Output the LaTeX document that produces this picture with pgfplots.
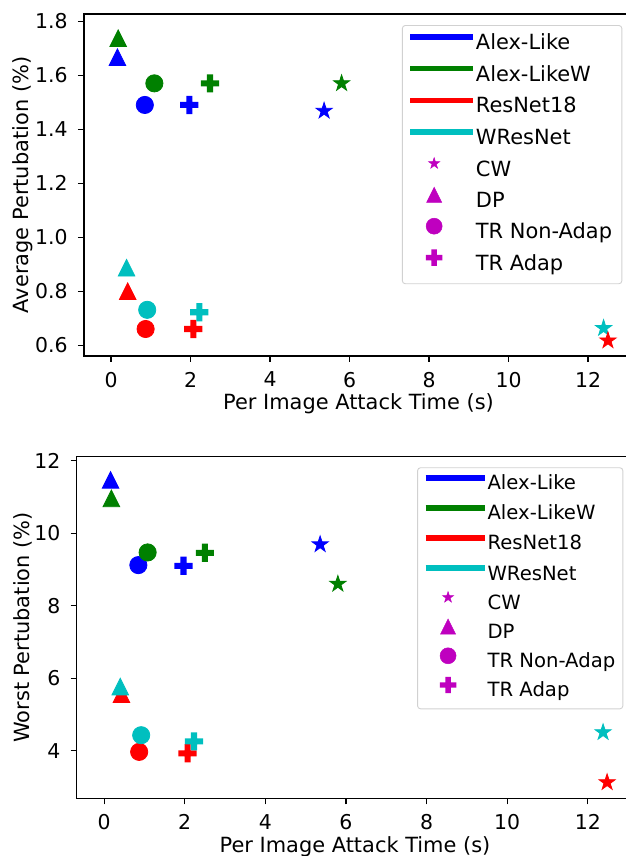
\documentclass[border=0pt]{standalone}
\usepackage{fontspec}
\setmainfont{DejaVu Sans}
\usepackage{pgfplots}
\pgfplotsset{compat=1.18}

\definecolor{mblue}{rgb}{0,0,1}
\definecolor{mgreen}{rgb}{0,0.5,0}
\definecolor{mred}{rgb}{1,0,0}
\definecolor{mcyan}{rgb}{0,0.75,0.75}
\definecolor{mmag}{rgb}{0.75,0,0.75}

\pgfdeclareplotmark{mtri}{%
  \pgfpathmoveto{\pgfqpoint{0pt}{\pgfplotmarksize}}%
  \pgfpathlineto{\pgfqpoint{-\pgfplotmarksize}{-\pgfplotmarksize}}%
  \pgfpathlineto{\pgfqpoint{\pgfplotmarksize}{-\pgfplotmarksize}}%
  \pgfpathclose\pgfusepathqfillstroke}
\pgfdeclareplotmark{mplus}{%
  \pgfpathrectanglecorners{\pgfpoint{-\pgfplotmarksize}{-0.3333\pgfplotmarksize}}{\pgfpoint{\pgfplotmarksize}{0.3333\pgfplotmarksize}}%
  \pgfpathrectanglecorners{\pgfpoint{-0.3333\pgfplotmarksize}{-\pgfplotmarksize}}{\pgfpoint{0.3333\pgfplotmarksize}{\pgfplotmarksize}}%
  \pgfusepathqfill}
\pgfdeclareplotmark{mstar}{%
  \pgfpathmoveto{\pgfpointpolar{90}{\pgfplotmarksize}}%
  \pgfpathlineto{\pgfpointpolar{126}{0.382\pgfplotmarksize}}%
  \pgfpathlineto{\pgfpointpolar{162}{\pgfplotmarksize}}%
  \pgfpathlineto{\pgfpointpolar{198}{0.382\pgfplotmarksize}}%
  \pgfpathlineto{\pgfpointpolar{234}{\pgfplotmarksize}}%
  \pgfpathlineto{\pgfpointpolar{270}{0.382\pgfplotmarksize}}%
  \pgfpathlineto{\pgfpointpolar{306}{\pgfplotmarksize}}%
  \pgfpathlineto{\pgfpointpolar{342}{0.382\pgfplotmarksize}}%
  \pgfpathlineto{\pgfpointpolar{18}{\pgfplotmarksize}}%
  \pgfpathlineto{\pgfpointpolar{54}{0.382\pgfplotmarksize}}%
  \pgfpathclose\pgfusepathqfillstroke}

\pgfplotsset{
  common/.style={
    scale only axis, anchor=south west,
    xmin=-0.68, xmax=13.13,
    xtick={0,2,...,12},
    tick align=outside, tick pos=left,
    major tick length=6bp,
    every tick/.style={black, line width=1.2bp},
    axis line style={black, line width=1.2bp},
    /pgf/number format/assume math mode=true,
    ticklabel style={font=\fontsize{20.5}{24}\selectfont, inner sep=0pt},
    xticklabel style={anchor=north, yshift=-9.5bp},
    yticklabel style={anchor=east, xshift=-10bp},
    label style={font=\fontsize{21}{25}\selectfont},
    xlabel style={at={(axis description cs:0.5,0)}, anchor=base, yshift=-54bp},
    xlabel={Per Image Attack Time (s)},
    legend cell align=left,
    legend style={draw=black!18, line width=0.9bp, rounded corners=3bp, fill=white,
      anchor=north east},
    only marks, line width=0.8bp,
  },
  legTop/.style={
    legend style={at={(axis description cs:0.9805,0.9678)},
      font=\fontsize{21}{25}\selectfont, inner xsep=9.8bp, inner ysep=8.6bp,
      row sep=11.36bp, nodes={inner sep=0pt, text height=15bp, text depth=5bp}},
    legend image code/.code={%
      \path (0bp,7.6bp) -- (58.2bp,7.6bp);
      \draw[overlay, mark repeat=2, mark phase=2, ##1] plot coordinates {(-4.8bp,7.6bp) (19.2bp,7.6bp) (43.2bp,7.6bp)};}
  },
  legBot/.style={
    legend style={at={(axis description cs:0.982,0.969)},
      font=\fontsize{19.7}{23}\selectfont, inner xsep=7.6bp, inner ysep=7.3bp,
      row sep=10.5bp, nodes={inner sep=0pt, text height=14bp, text depth=4.7bp}},
    legend image code/.code={%
      \path (0bp,7.2bp) -- (56.4bp,7.2bp);
      \draw[overlay, mark repeat=2, mark phase=2, ##1] plot coordinates {(-2.6bp,7.2bp) (19.9bp,7.2bp) (42.4bp,7.2bp)};}
  },
  CW/.style={mark=mstar, mark size=8.5bp},
  DP/.style={mark=mtri, mark size=8.3bp},
  TRN/.style={mark=*, mark size=8.6bp},
  TRA/.style={mark=mplus, mark size=9.1bp},
  legmark/.style={mmag, draw=none, line width=0.5bp, mark options={draw=mmag, fill=mmag}},
}

\newcommand{\legendentries}[1]{%
  \addlegendimage{sharp plot, no marks, mblue, line width=#1}\addlegendentry{Alex-Like}
  \addlegendimage{sharp plot, no marks, mgreen, line width=#1}\addlegendentry{Alex-LikeW}
  \addlegendimage{sharp plot, no marks, mred, line width=#1}\addlegendentry{ResNet18}
  \addlegendimage{sharp plot, no marks, mcyan, line width=#1}\addlegendentry{WResNet}
  \addlegendimage{legmark, mark=mstar, mark size=5.8bp}\addlegendentry{CW}
  \addlegendimage{legmark, mark=mtri, mark size=7.6bp}\addlegendentry{DP}
  \addlegendimage{legmark, mark=*, mark size=8bp}\addlegendentry{TR Non-Adap}
  \addlegendimage{legmark, mark=mplus, mark size=8.2bp}\addlegendentry{TR Adap}
}

\begin{document}
\begin{tikzpicture}
\useasboundingbox (0,0) rectangle (626bp,856bp);

% ---------- top axis ----------
\begin{axis}[common, legTop,
  at={(84bp,500bp)}, width=549bp, height=342bp,
  ymin=0.56, ymax=1.827,
  ytick={0.6,0.8,1.0,1.2,1.4,1.6,1.8},
  yticklabel style={/pgf/number format/.cd, fixed, fixed zerofill, precision=1},
  ylabel={Average Pertubation (\%)},
  ylabel style={at={(axis description cs:-0.1111,0.5)}, anchor=center, rotate=0},
]
\legendentries{5.6bp}
% Alex-Like
\addplot[forget plot, mblue, DP]  coordinates {(0.16,1.667)};
\addplot[forget plot, mblue, TRN] coordinates {(0.85,1.490)};
\addplot[forget plot, mblue, TRA] coordinates {(1.97,1.490)};
\addplot[forget plot, mblue, CW]  coordinates {(5.36,1.468)};
% Alex-LikeW
\addplot[forget plot, mgreen, DP]  coordinates {(0.18,1.737)};
\addplot[forget plot, mgreen, TRN] coordinates {(1.09,1.570)};
\addplot[forget plot, mgreen, TRA] coordinates {(2.49,1.570)};
\addplot[forget plot, mgreen, CW]  coordinates {(5.80,1.570)};
% WResNet CW first (red star drawn above)
\addplot[forget plot, mcyan, CW]  coordinates {(12.39,0.663)};
% ResNet18
\addplot[forget plot, mred, DP]  coordinates {(0.42,0.800)};
\addplot[forget plot, mred, TRN] coordinates {(0.87,0.660)};
\addplot[forget plot, mred, TRA] coordinates {(2.07,0.660)};
\addplot[forget plot, mred, CW]  coordinates {(12.50,0.617)};
% WResNet
\addplot[forget plot, mcyan, DP]  coordinates {(0.39,0.887)};
\addplot[forget plot, mcyan, TRN] coordinates {(0.91,0.731)};
\addplot[forget plot, mcyan, TRA] coordinates {(2.22,0.722)};
\end{axis}

% ---------- bottom axis ----------
\begin{axis}[common, legBot,
  at={(76.7bp,57.7bp)}, width=556.6bp, height=341.6bp,
  ymin=2.69, ymax=12.11,
  ytick={4,6,8,10,12},
  ylabel={Worst Pertubation (\%)},
  ylabel style={at={(axis description cs:-0.0965,0.5)}, anchor=center, rotate=0},
]
\legendentries{6bp}
% Alex-Like
\addplot[forget plot, mblue, DP]  coordinates {(0.16,11.47)};
\addplot[forget plot, mblue, TRN] coordinates {(0.85,9.12)};
\addplot[forget plot, mblue, TRA] coordinates {(1.97,9.10)};
\addplot[forget plot, mblue, CW]  coordinates {(5.36,9.69)};
% Alex-LikeW
\addplot[forget plot, mgreen, DP]  coordinates {(0.18,10.96)};
\addplot[forget plot, mgreen, TRN] coordinates {(1.08,9.47)};
\addplot[forget plot, mgreen, TRA] coordinates {(2.50,9.46)};
\addplot[forget plot, mgreen, CW]  coordinates {(5.80,8.60)};
% ResNet18
\addplot[forget plot, mred, DP]  coordinates {(0.43,5.56)};
\addplot[forget plot, mred, TRN] coordinates {(0.87,3.97)};
\addplot[forget plot, mred, TRA] coordinates {(2.07,3.93)};
\addplot[forget plot, mred, CW]  coordinates {(12.48,3.13)};
% WResNet
\addplot[forget plot, mcyan, DP]  coordinates {(0.40,5.77)};
\addplot[forget plot, mcyan, TRN] coordinates {(0.92,4.43)};
\addplot[forget plot, mcyan, TRA] coordinates {(2.23,4.26)};
\addplot[forget plot, mcyan, CW]  coordinates {(12.38,4.51)};
\end{axis}
\end{tikzpicture}
\end{document}
